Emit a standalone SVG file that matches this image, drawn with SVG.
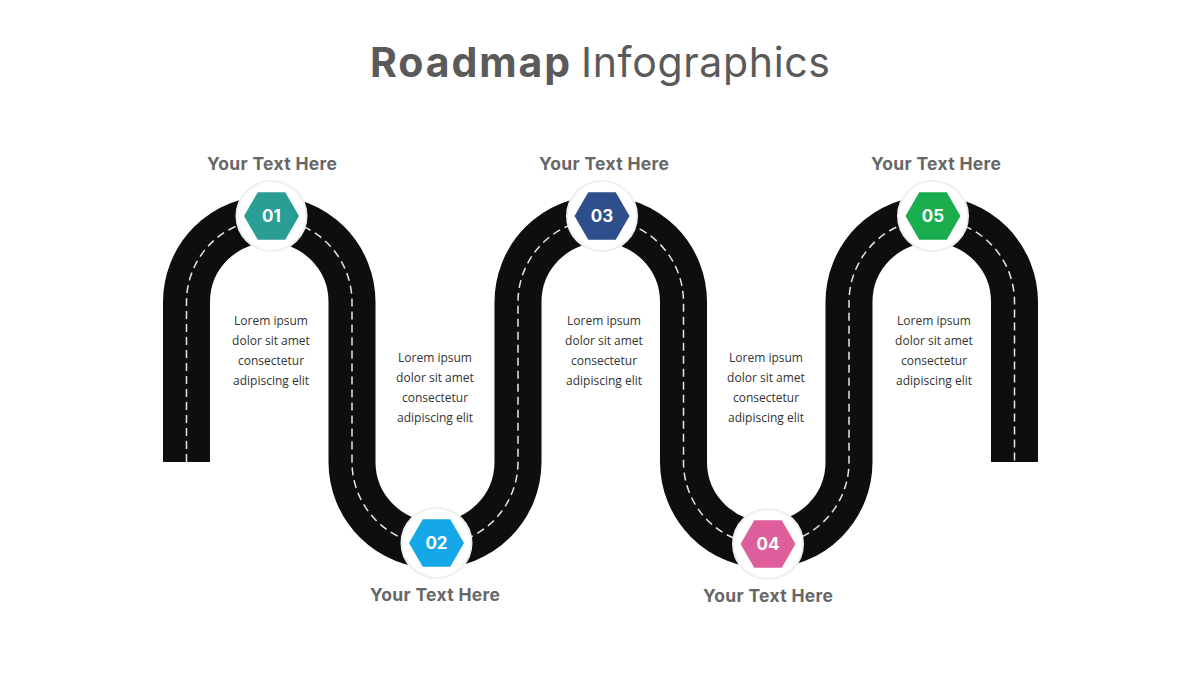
<svg xmlns="http://www.w3.org/2000/svg" width="1200" height="675" viewBox="0 0 1200 675">
<defs>
<style>
.road{fill:none;stroke:#0e0e0e;stroke-width:47;stroke-linecap:butt}
.dash{fill:none;stroke:#e6e6e6;stroke-width:1.5;stroke-dasharray:8 5}
.ring{fill:#fff;stroke:#efefef;stroke-width:2}
.num{font-family:Inter,"Open Sans",sans-serif;font-weight:700;font-size:17px;fill:#fff;text-anchor:middle}
.lbl{font-family:Inter,"Open Sans",sans-serif;font-weight:700;font-size:17.5px;fill:#676767;text-anchor:middle}
.body{font-family:"Open Sans","Liberation Sans",sans-serif;font-size:12px;fill:#333;text-anchor:middle}
.title{font-family:Inter,"Open Sans",sans-serif;font-size:41px;fill:#5a5a5a}
</style>
<polygon id="hex" points="-27.5,0 -13.75,-23.8 13.75,-23.8 27.5,0 13.75,23.8 -13.75,23.8"/>
</defs>
<rect width="1200" height="675" fill="#fff"/>
<g id="title">
<text class="title" x="370" y="77" font-weight="700" textLength="200">Roadmap</text>
<text class="title" x="581" y="77" font-weight="400" textLength="249">Infographics</text>
</g>
<g id="connectors">
<path class="road" d="M186.5,462 V302 A82.75,82.75 0 0 1 352,302 V462 A82.75,82.75 0 0 0 518,462 V302 A82.75,82.75 0 0 1 683.5,302 V462 A82.75,82.75 0 0 0 849,462 V302 A82.75,82.75 0 0 1 1014.5,302 V462"/>
<path class="dash" d="M186.5,462 V302 A82.75,82.75 0 0 1 352,302 V462 A82.75,82.75 0 0 0 518,462 V302 A82.75,82.75 0 0 1 683.5,302 V462 A82.75,82.75 0 0 0 849,462 V302 A82.75,82.75 0 0 1 1014.5,302 V462"/>
</g>
<g id="node1">
<text class="lbl" x="272" y="170" textLength="130">Your Text Here</text>
<circle class="ring" cx="271.5" cy="216" r="35"/>
<use href="#hex" x="271.5" y="216" fill="#2a9d94"/>
<text class="num" x="271.5" y="222">01</text>
<text class="body" x="271" y="325">Lorem ipsum</text>
<text class="body" x="271" y="345">dolor sit amet</text>
<text class="body" x="271" y="365">consectetur</text>
<text class="body" x="271" y="385">adipiscing elit</text>
</g>
<g id="node2">
<circle class="ring" cx="436.5" cy="543" r="35"/>
<use href="#hex" x="436.5" y="543" fill="#14a8e8"/>
<text class="num" x="436.5" y="549">02</text>
<text class="lbl" x="435" y="601" textLength="130">Your Text Here</text>
<text class="body" x="435" y="362">Lorem ipsum</text>
<text class="body" x="435" y="382">dolor sit amet</text>
<text class="body" x="435" y="402">consectetur</text>
<text class="body" x="435" y="422">adipiscing elit</text>
</g>
<g id="node3">
<text class="lbl" x="604" y="170" textLength="130">Your Text Here</text>
<circle class="ring" cx="602" cy="216" r="35"/>
<use href="#hex" x="602" y="216" fill="#2e4f8c"/>
<text class="num" x="602" y="222">03</text>
<text class="body" x="604" y="325">Lorem ipsum</text>
<text class="body" x="604" y="345">dolor sit amet</text>
<text class="body" x="604" y="365">consectetur</text>
<text class="body" x="604" y="385">adipiscing elit</text>
</g>
<g id="node4">
<circle class="ring" cx="768" cy="544" r="35"/>
<use href="#hex" x="768" y="544" fill="#de5f9b"/>
<text class="num" x="768" y="550">04</text>
<text class="lbl" x="768" y="602" textLength="130">Your Text Here</text>
<text class="body" x="766" y="362">Lorem ipsum</text>
<text class="body" x="766" y="382">dolor sit amet</text>
<text class="body" x="766" y="402">consectetur</text>
<text class="body" x="766" y="422">adipiscing elit</text>
</g>
<g id="node5">
<text class="lbl" x="936" y="170" textLength="130">Your Text Here</text>
<circle class="ring" cx="933" cy="216" r="35"/>
<use href="#hex" x="933" y="216" fill="#1aad4d"/>
<text class="num" x="933" y="222">05</text>
<text class="body" x="934" y="325">Lorem ipsum</text>
<text class="body" x="934" y="345">dolor sit amet</text>
<text class="body" x="934" y="365">consectetur</text>
<text class="body" x="934" y="385">adipiscing elit</text>
</g>
</svg>
